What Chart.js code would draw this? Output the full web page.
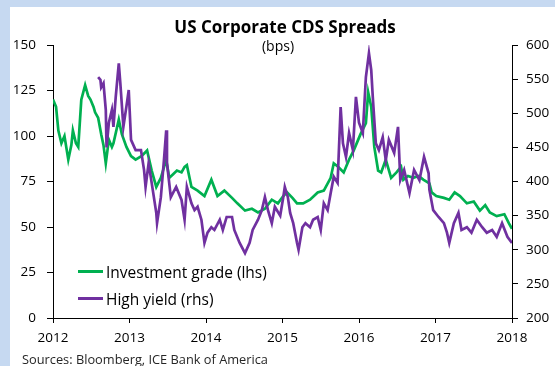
<!DOCTYPE html>
<html>
<head>
<meta charset="utf-8">
<script src="https://cdn.jsdelivr.net/npm/chart.js@4/dist/chart.umd.min.js"></script>
<style>
  html, body { margin:0; padding:0; }
  body { width:555px; height:366px; background:#c6d9f1; position:relative; overflow:hidden; font-family:"Open Sans", sans-serif; }
  #panel { position:absolute; left:10px; top:7px; width:545px; height:359px; background:#fff; }
  #chart { position:absolute; left:0; top:0; }
  .title { position:absolute; text-align:center; color:#000; line-height:1; white-space:nowrap; }
  #title { left:85px; width:400px; top:18px; font-size:17px; font-weight:bold; }
  #subtitle { left:178px; width:200px; top:39px; font-size:14px; }
  #legend { position:absolute; left:78px; top:258px; font-size:15.5px; color:#000; }
  #legend .row { height:27px; display:flex; align-items:center; }
  #legend .sw { width:25px; height:2.5px; margin-right:3px; }
  #source { position:absolute; left:22px; top:350px; font-size:12.8px; color:#262626; }
</style>
</head>
<body>
<div id="panel"></div>
<canvas id="chart" width="555" height="366"></canvas>
<div class="title" id="title">US Corporate CDS Spreads</div>
<div class="title" id="subtitle">(bps)</div>
<div id="legend"></div>
<div id="source">Sources: Bloomberg, ICE Bank of America</div>
<script>
  // Tick labels
  const yearTicks = [2012, 2013, 2014, 2015, 2016, 2017, 2018]
  const lhsTicks  = [0, 25, 50, 75, 100, 125, 150]
  const rhsTicks  = [200, 250, 300, 350, 400, 450, 500, 550, 600]

  // Series names
  const seriesNames = ['Investment grade (lhs)', 'High yield (rhs)']
  const seriesColors = ['#00b050', '#7030a0']

  // Investment grade CDS (lhs, bps), dates as decimal years
  const igYears = [
    2012.00, 2012.04, 2012.07, 2012.11, 2012.15, 2012.20, 2012.24, 2012.26, 2012.30, 2012.33,
    2012.37, 2012.42, 2012.46, 2012.49, 2012.53, 2012.55, 2012.59, 2012.63, 2012.66, 2012.69,
    2012.73, 2012.77, 2012.79, 2012.86, 2012.90, 2012.96, 2013.02, 2013.08, 2013.16, 2013.23,
    2013.29, 2013.35, 2013.41, 2013.48, 2013.52, 2013.57, 2013.62, 2013.68, 2013.72, 2013.75,
    2013.81, 2013.89, 2013.98, 2014.07, 2014.15, 2014.24, 2014.34, 2014.41, 2014.51, 2014.60,
    2014.68, 2014.77, 2014.86, 2014.94, 2015.01, 2015.06, 2015.13, 2015.19, 2015.27, 2015.36,
    2015.46, 2015.54, 2015.63, 2015.67, 2015.73, 2015.80, 2015.87, 2015.93, 2016.02, 2016.09,
    2016.12, 2016.16, 2016.20, 2016.25, 2016.29, 2016.35, 2016.42, 2016.49, 2016.55, 2016.58,
    2016.64, 2016.71, 2016.78, 2016.84, 2016.92, 2016.95, 2017.01, 2017.11, 2017.18, 2017.25,
    2017.32, 2017.41, 2017.50, 2017.58, 2017.65, 2017.71, 2017.80, 2017.90, 2017.96, 2018.00
  ]
  const igValues = [
    120, 116, 103, 96, 100, 87, 95, 103, 96, 94,
    120, 128, 122, 120, 116, 113, 110, 101, 95, 85,
    98, 94, 96, 109, 101, 94, 89, 87, 89, 92,
    81, 72, 77, 87, 77, 79, 81, 80, 83, 84,
    72, 70, 67, 76, 67, 70, 66, 63, 59, 60,
    58, 60, 65, 63, 67, 69, 66, 63, 63, 65,
    69, 70, 77, 85, 83, 80, 87, 92, 101, 107,
    124, 116, 94, 81, 80, 87, 77, 80, 83, 76,
    78, 77, 78, 76, 74, 69, 67, 66, 65, 69,
    67, 63, 64, 59, 62, 58, 56, 57, 52, 49
  ]

  // High yield CDS (rhs, bps)
  const hyYears = [
    2012.59, 2012.62, 2012.63, 2012.66, 2012.69, 2012.70, 2012.73, 2012.77, 2012.79, 2012.82,
    2012.86, 2012.88, 2012.92, 2012.96, 2012.99, 2013.02, 2013.08, 2013.15, 2013.19, 2013.21,
    2013.25, 2013.29, 2013.35, 2013.36, 2013.41, 2013.45, 2013.48, 2013.49, 2013.54, 2013.61,
    2013.68, 2013.72, 2013.75, 2013.81, 2013.85, 2013.89, 2013.94, 2013.98, 2014.02, 2014.07,
    2014.11, 2014.18, 2014.22, 2014.27, 2014.34, 2014.37, 2014.44, 2014.51, 2014.57, 2014.61,
    2014.68, 2014.73, 2014.77, 2014.81, 2014.86, 2014.90, 2014.97, 2015.01, 2015.03, 2015.07,
    2015.10, 2015.14, 2015.19, 2015.21, 2015.26, 2015.30, 2015.36, 2015.40, 2015.46, 2015.50,
    2015.54, 2015.59, 2015.63, 2015.67, 2015.72, 2015.76, 2015.79, 2015.83, 2015.87, 2015.92,
    2015.96, 2016.00, 2016.05, 2016.09, 2016.13, 2016.16, 2016.18, 2016.22, 2016.26, 2016.31,
    2016.35, 2016.39, 2016.46, 2016.51, 2016.54, 2016.59, 2016.66, 2016.72, 2016.79, 2016.85,
    2016.91, 2016.92, 2016.97, 2017.04, 2017.11, 2017.15, 2017.18, 2017.24, 2017.30, 2017.34,
    2017.41, 2017.47, 2017.54, 2017.61, 2017.67, 2017.74, 2017.80, 2017.87, 2017.94, 2018.00
  ]
  const hyValues = [
    553, 549, 538, 544, 505, 450, 486, 505, 480, 524,
    573, 544, 480, 510, 534, 461, 446, 446, 417, 392,
    427, 398, 354, 339, 377, 431, 475, 427, 377, 392,
    373, 344, 392, 368, 358, 363, 344, 310, 325, 333,
    329, 344, 329, 348, 348, 329, 310, 295, 310, 329,
    344, 358, 377, 358, 339, 363, 350, 377, 392, 377,
    354, 339, 310, 300, 333, 339, 333, 344, 348, 329,
    368, 358, 383, 407, 398, 509, 456, 436, 471, 446,
    524, 486, 471, 553, 588, 563, 524, 456, 446, 465,
    431, 461, 442, 480, 402, 417, 383, 417, 402, 436,
    412, 388, 358, 348, 339, 325, 310, 339, 354, 329,
    333, 325, 344, 333, 325, 329, 319, 339, 319, 310
  ]

  const toPoints = (xs, ys) => xs.map((x, i) => ({ x, y: ys[i] }))

  // HTML legend
  const legendEl = document.getElementById('legend')
  seriesNames.forEach((name, i) => {
    const row = document.createElement('div'); row.className = 'row'
    row.innerHTML = `<span class="sw" style="background:${seriesColors[i]}"></span><span>${name}</span>`
    legendEl.appendChild(row)
  })

  const tickFont = { family: '"Open Sans", sans-serif', size: 13.5 }
  const axisColor = '#000'

  new Chart(document.getElementById('chart').getContext('2d'), {
    type: 'line',
    data: {
      datasets: [
        { label: seriesNames[0], data: toPoints(igYears, igValues), yAxisID: 'yL', order: 1,
          borderColor: seriesColors[0], borderWidth: 2.7, pointRadius: 0, tension: 0 },
        { label: seriesNames[1], data: toPoints(hyYears, hyValues), yAxisID: 'yR', order: 0,
          borderColor: seriesColors[1], borderWidth: 2.7, pointRadius: 0, tension: 0 }
      ]
    },
    options: {
      responsive: false,
      animation: false,
      layout: { padding: { top: 45, bottom: 0, left: 0, right: 0 } },
      plugins: { legend: { display: false }, title: { display: false }, tooltip: { enabled: false } },
      scales: {
        x: {
          type: 'linear', min: 2012, max: 2018,
          afterBuildTicks: s => { s.ticks = yearTicks.map(v => ({ value: v })) },
          afterFit: s => { s.height = 48 },
          ticks: { font: tickFont, color: '#000', padding: 7, maxRotation: 0, callback: v => String(v) },
          grid: { drawOnChartArea: false, drawTicks: true, tickLength: 5, color: axisColor },
          border: { color: axisColor, width: 1 }
        },
        yL: {
          position: 'left', min: 0, max: 150,
          afterBuildTicks: s => { s.ticks = lhsTicks.map(v => ({ value: v })) },
          afterFit: s => { s.width = 53 },
          ticks: { font: tickFont, color: '#000', padding: 11 },
          grid: { drawOnChartArea: false, drawTicks: true, tickLength: 6, color: axisColor },
          border: { color: axisColor, width: 1 }
        },
        yR: {
          position: 'right', min: 200, max: 600,
          afterBuildTicks: s => { s.ticks = rhsTicks.map(v => ({ value: v })) },
          afterFit: s => { s.width = 43 },
          ticks: { font: tickFont, color: '#000', padding: 8 },
          grid: { drawOnChartArea: false, drawTicks: true, tickLength: 6, color: axisColor },
          border: { color: axisColor, width: 1 }
        }
      }
    }
  })
</script>
</body>
</html>
